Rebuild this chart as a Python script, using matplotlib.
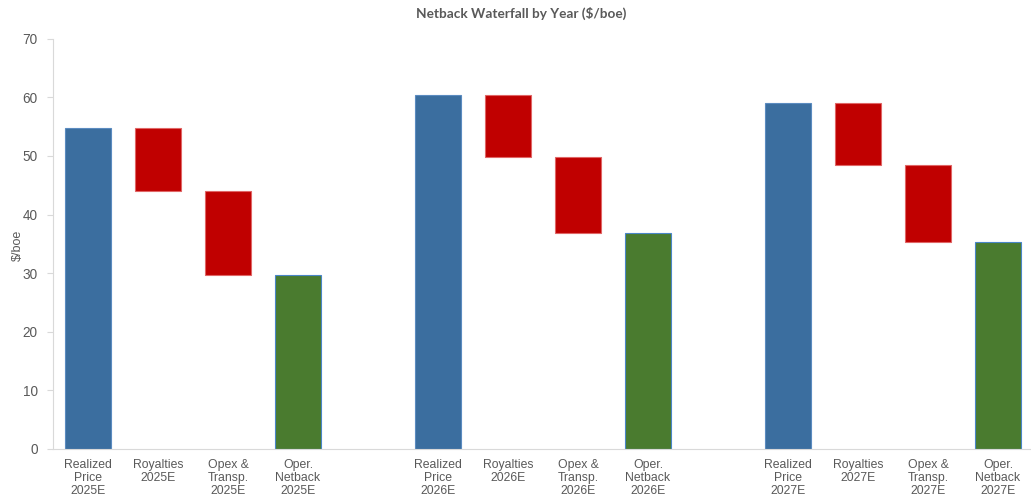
import numpy as np
import matplotlib
matplotlib.use("Agg")
from matplotlib import pyplot as plt

matplotlib.rc('font', family=['Liberation Sans', 'DejaVu Sans'], size=9)

years = ["2025E", "2026E", "2027E"]
steps = ["Realized\nPrice", "Royalties", "Opex &\nTransp.", "Oper.\nNetback"]
realized_price = [54.8, 60.4, 59.0]
royalties = [10.8, 10.5, 10.6]
opex_transp = [14.3, 13.0, 13.1]
oper_netback = [29.7, 36.9, 35.3]

blue = '#3B6E9F'
red = '#C00000'
green = '#4A7B2F'
grey = '#595959'

fig = plt.figure(figsize=(10.31, 5.0), dpi=100)
ax = fig.add_axes([53 / 1031, 51 / 500, 980 / 1031, 410.3 / 500])

width = 0.67
positions = []
labels = []
for i, yr in enumerate(years):
    x0 = i * 5
    price = realized_price[i]
    after_roy = price - royalties[i]
    after_opex = after_roy - opex_transp[i]
    # opening bar
    ax.bar(x0, price, width, color=blue, edgecolor='#5B8BC0', linewidth=0.8)
    # deductions float between running totals
    ax.bar(x0 + 1, royalties[i], width, bottom=after_roy,
           color=red, edgecolor='#E06666', linewidth=0.8)
    ax.bar(x0 + 2, opex_transp[i], width, bottom=after_opex,
           color=red, edgecolor='#E06666', linewidth=0.8)
    # closing bar
    ax.bar(x0 + 3, oper_netback[i], width, color=green,
           edgecolor='#4A86C8', linewidth=0.8)
    for j, s in enumerate(steps):
        positions.append(x0 + j)
        labels.append(s + "\n" + yr)

ax.set_xlim(-0.5, 13.5)
ax.set_ylim(0, 70)
ax.set_yticks(np.arange(0, 71, 10))
ax.set_xticks(positions)
ax.set_xticklabels(labels, color=grey, fontsize=8.8, linespacing=1.15)
ax.tick_params(axis='x', length=0, pad=7)
ax.tick_params(axis='y', colors='#D9D9D9', labelcolor=grey, labelsize=9.8,
               length=4, width=0.8, pad=7)

for side in ['top', 'right']:
    ax.spines[side].set_visible(False)
for side in ['left', 'bottom']:
    ax.spines[side].set_color('#D9D9D9')
    ax.spines[side].set_linewidth(0.8)

ax.set_ylabel("$/boe", color=grey, fontsize=9)
ax.yaxis.set_label_coords(-0.0296, 0.497)
fig.text(521 / 1031, 1 - 13 / 500, "Netback Waterfall by Year ($/boe)",
         ha='center', va='center', fontsize=9.8, fontweight='bold',
         color=grey, family=['Lato', 'DejaVu Sans'])

plt.savefig("out.png", dpi=100)
plt.close()
